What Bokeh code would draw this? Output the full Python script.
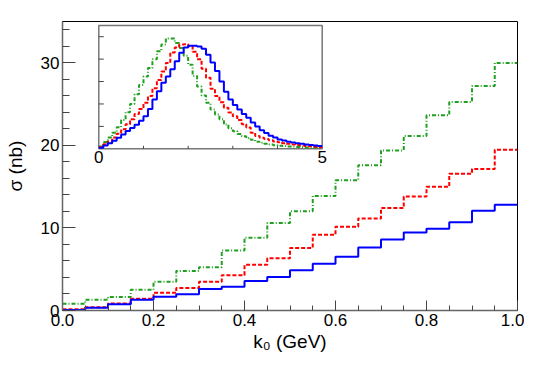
from bokeh.plotting import figure
from bokeh.models import Range1d, FixedTicker, NumeralTickFormatter
from bokeh.core.properties import value
from bokeh.embed import file_html
from bokeh.resources import INLINE

# ---- main histograms: 20 bins of k0 from 0 to 1 GeV ----
k0_edges = [round(0.05 * i, 2) for i in range(21)]
sigma_blue = [0.05, 0.32, 0.77, 1.29, 1.66, 1.98, 2.59, 2.87, 3.56, 4.06,
              4.87, 5.66, 6.50, 7.64, 8.60, 9.45, 9.90, 10.70, 12.08, 12.80]
sigma_red = [0.15, 0.40, 0.85, 1.41, 2.14, 2.71, 3.47, 4.28, 5.53, 6.32,
             7.58, 9.17, 10.14, 11.15, 12.40, 13.80, 14.99, 16.56, 17.13, 19.47]
sigma_green = [0.81, 1.29, 1.62, 2.50, 3.47, 4.77, 5.25, 7.27, 8.81, 10.59,
               12.02, 13.86, 15.76, 17.58, 19.39, 21.13, 23.64, 25.25, 27.19, 29.98]

# ---- inset histograms: 50 bins from 0 to 5 ----
inset_edges = [round(0.1 * i, 1) for i in range(51)]
inset_blue = [0.05, 0.15, 0.25, 0.36, 0.49, 0.64, 0.79, 0.93, 1.07, 1.25,
              1.45, 1.78, 2.20, 2.57, 2.95, 3.22, 3.55, 3.90, 4.28, 4.52,
              4.60, 4.60, 4.56, 4.46, 4.20, 3.85, 3.47, 3.00, 2.55, 2.20,
              1.95, 1.75, 1.55, 1.38, 1.17, 1.00, 0.83, 0.70, 0.58, 0.50,
              0.42, 0.37, 0.32, 0.28, 0.25, 0.22, 0.19, 0.17, 0.15, 0.13]
inset_red = [0.07, 0.20, 0.33, 0.50, 0.67, 0.87, 1.10, 1.32, 1.55, 1.78,
             2.05, 2.35, 2.70, 3.07, 3.45, 3.83, 4.30, 4.52, 4.65, 4.66,
             4.57, 4.33, 4.00, 3.57, 3.17, 2.68, 2.35, 2.08, 1.83, 1.62,
             1.45, 1.28, 1.10, 0.95, 0.72, 0.57, 0.49, 0.44, 0.38, 0.33,
             0.29, 0.25, 0.22, 0.19, 0.17, 0.15, 0.13, 0.11, 0.09, 0.07]
inset_green = [0.10, 0.30, 0.50, 0.72, 0.96, 1.28, 1.63, 2.00, 2.43, 2.85,
               3.22, 3.60, 4.00, 4.35, 4.65, 4.92, 4.92, 4.72, 4.50, 4.15,
               3.75, 3.25, 2.78, 2.38, 2.05, 1.75, 1.53, 1.32, 1.08, 0.92,
               0.78, 0.66, 0.56, 0.48, 0.40, 0.32, 0.27, 0.23, 0.19, 0.16,
               0.14, 0.12, 0.10, 0.09, 0.08, 0.07, 0.06, 0.05, 0.05, 0.04]

x_ticks = [0.0, 0.2, 0.4, 0.6, 0.8, 1.0]
y_ticks = [0, 10, 20, 30]
inset_x_ticks = [1, 2, 3, 4]
inset_y_ticks = [1, 2, 3, 4, 5]
inset_x_labels = ["0", "5"]
inset_x_label_pos = [0, 5]
x_title = "k₀ (GeV)"
y_title = "σ (nb)"

FONT = "Liberation Sans"
BLUE, RED, GREEN = "#0000ff", "#ff0000", "#1fa01f"
RED_DASH = "4 2"
GREEN_DASH = "4 2 1 2"

p = figure(width=524, height=358, x_range=Range1d(0, 1), y_range=Range1d(0, 35),
           output_backend="svg", toolbar_location=None,
           min_border_left=62, min_border_right=7, min_border_top=21,
           min_border_bottom=48)
p.background_fill_color = "white"
p.border_fill_color = "white"
p.grid.visible = False
p.outline_line_color = "black"
p.outline_line_width = 1

for ax in (p.xaxis[0], p.yaxis[0]):
    ax.axis_line_color = "#666666"
    ax.axis_line_width = 1.5
    ax.major_tick_line_color = "#444444"
    ax.minor_tick_line_color = "#444444"
    ax.major_tick_out = 0
    ax.minor_tick_out = 0
    ax.major_label_text_font = FONT
    ax.major_label_text_font_size = "17px"
    ax.major_label_text_color = "black"
    ax.axis_label_text_font = FONT
    ax.axis_label_text_font_size = "19px"
    ax.axis_label_text_font_style = "normal"
    ax.axis_label_text_color = "black"
    ax.major_label_standoff = 3

p.xaxis.ticker = FixedTicker(ticks=x_ticks,
                             minor_ticks=[round(0.05 * i, 2) for i in range(21)])
p.xaxis.formatter = NumeralTickFormatter(format="0.0")
p.xaxis.major_tick_in = 10
p.xaxis.minor_tick_in = 5
p.xaxis.axis_label = x_title
p.xaxis.axis_label_standoff = 2

p.yaxis.ticker = FixedTicker(ticks=y_ticks, minor_ticks=list(range(0, 36, 2)))
p.yaxis.major_tick_in = 13
p.yaxis.minor_tick_in = 7
p.yaxis.axis_label = y_title
p.yaxis.axis_label_standoff = 12

# main histograms
p.step(x=k0_edges, y=sigma_green + [sigma_green[-1]], mode="after",
       line_color=GREEN, line_width=2, line_dash=GREEN_DASH)
p.step(x=k0_edges, y=sigma_red + [sigma_red[-1]], mode="after",
       line_color=RED, line_width=2, line_dash=RED_DASH)
p.step(x=k0_edges, y=sigma_blue + [sigma_blue[-1]], mode="after",
       line_color=BLUE, line_width=2)

# ---- inset placed through extra ranges (pixel box of the inset) ----
fl, fr, ft, fb = 62.0, 517.0, 21.0, 310.0           # main frame (px)
il, ir, it, ib = 98.3, 321.7, 25.0, 148.3           # inset box (px)
ix0, ix1, iy0, iy1 = 0.0, 5.0, 0.0, 5.5
sx = (ix1 - ix0) / (ir - il)
sy = (iy1 - iy0) / (ib - it)
p.extra_x_ranges = {"ix": Range1d(ix0 - (il - fl) * sx, ix1 + (fr - ir) * sx)}
p.extra_y_ranges = {"iy": Range1d(iy0 - (fb - ib) * sy, iy1 + (it - ft) * sy)}

p.quad(left=[ix0], right=[ix1], bottom=[iy0], top=[iy1],
       x_range_name="ix", y_range_name="iy",
       fill_color="white", line_color="#777777", line_width=1.5)

ytick_len = 5 * sx   # 5 px long
xtick_len = 3 * sy   # 3 px long
p.segment(x0=[ix0] * len(inset_y_ticks), x1=[ix0 + ytick_len] * len(inset_y_ticks),
          y0=inset_y_ticks, y1=inset_y_ticks,
          x_range_name="ix", y_range_name="iy", line_color="#444444", line_width=1)
p.segment(x0=inset_x_ticks, x1=inset_x_ticks,
          y0=[iy0] * len(inset_x_ticks), y1=[iy0 + xtick_len] * len(inset_x_ticks),
          x_range_name="ix", y_range_name="iy", line_color="#444444", line_width=1)

p.step(x=inset_edges, y=inset_green + [inset_green[-1]], mode="after",
       x_range_name="ix", y_range_name="iy",
       line_color=GREEN, line_width=2, line_dash=GREEN_DASH)
p.step(x=inset_edges, y=inset_red + [inset_red[-1]], mode="after",
       x_range_name="ix", y_range_name="iy",
       line_color=RED, line_width=2, line_dash=RED_DASH)
p.step(x=inset_edges, y=inset_blue + [inset_blue[-1]], mode="after",
       x_range_name="ix", y_range_name="iy",
       line_color=BLUE, line_width=2)

p.text(x=inset_x_label_pos, y=[0, 0], text=inset_x_labels,
       x_range_name="ix", y_range_name="iy",
       text_align="center", text_baseline="top", y_offset=2,
       text_font=value(FONT), text_font_size="17px", text_color="black")

open("out.html", "w").write(file_html(p, INLINE))
